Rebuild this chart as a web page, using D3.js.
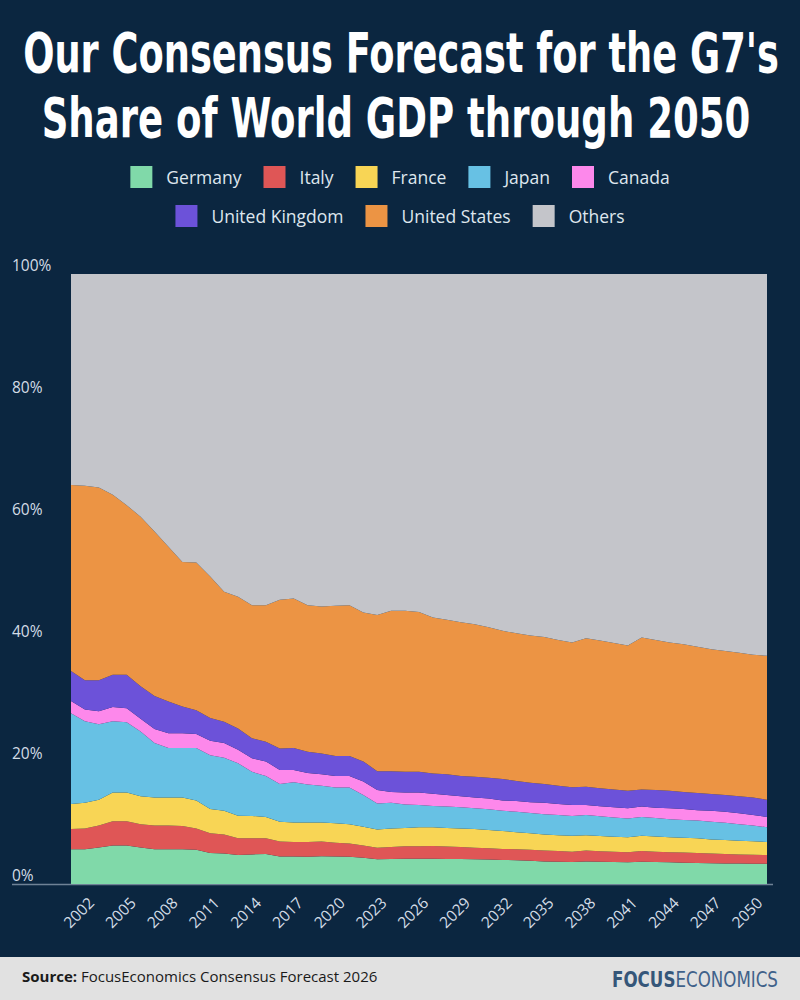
<!DOCTYPE html>
<html><head><meta charset="utf-8">
<script src="https://cdn.jsdelivr.net/npm/d3@7"></script>
<style>html,body{margin:0;padding:0;background:#0b2640;} svg{display:block}</style>
</head><body><svg id="c" width="800" height="1000"></svg>
<script>
const years = [2000,2001,2002,2003,2004,2005,2006,2007,2008,2009,2010,2011,2012,2013,2014,2015,2016,2017,2018,2019,2020,2021,2022,2023,2024,2025,2026,2027,2028,2029,2030,2031,2032,2033,2034,2035,2036,2037,2038,2039,2040,2041,2042,2043,2044,2045,2046,2047,2048,2049,2050];
const germany = [5.7,5.7,6.0,6.3,6.3,6.0,5.7,5.7,5.7,5.6, 5.1,5.0,4.75,4.85,4.9,4.5,4.5,4.45,4.55,4.5, 4.45,4.3,4.05,4.1,4.15,4.15,4.15,4.1,4.1,4.05, 4.0,3.95,3.9,3.8,3.7,3.65,3.6,3.7,3.65,3.6, 3.55,3.65,3.6,3.55,3.5,3.45,3.4,3.35,3.35,3.3,3.3];
const italy = [3.3,3.4,3.6,4.0,4.0,3.8,3.9,3.9,3.8,3.5, 3.2,3.1,2.75,2.65,2.6,2.45,2.4,2.45,2.4,2.25, 2.2,2.0,1.9,1.95,2.05,2.05,2.1,2.05,1.95,1.9, 1.85,1.8,1.8,1.8,1.8,1.75,1.7,1.8,1.7,1.7, 1.65,1.75,1.7,1.65,1.65,1.65,1.6,1.55,1.5,1.5,1.45];
const france = [4.1,4.2,4.2,4.7,4.7,4.6,4.6,4.6,4.7,4.6, 4.0,3.9,3.7,3.65,3.5,3.25,3.2,3.2,3.15,3.2, 3.15,3.1,3.0,3.05,3.0,3.1,3.05,3.05,3.05,3.05, 3.0,2.95,2.8,2.7,2.6,2.6,2.6,2.5,2.5,2.45, 2.45,2.5,2.5,2.45,2.45,2.4,2.3,2.3,2.25,2.2,2.15];
const japan = [14.9,13.4,12.4,11.7,11.5,10.6,8.9,8.1,8.1,8.6, 8.8,8.7,8.6,7.25,6.7,6.2,6.6,6.2,6.0,5.85, 6.0,5.2,4.25,4.2,3.85,3.65,3.5,3.5,3.5,3.4, 3.4,3.3,3.35,3.35,3.35,3.3,3.25,3.3,3.25,3.15, 3.1,3.1,3.0,2.95,2.9,2.9,2.9,2.85,2.7,2.6,2.4];
const canada = [2.0,1.9,2.1,2.3,2.3,2.1,2.3,2.4,2.4,2.3, 2.4,2.4,2.2,2.2,2.4,2.3,2.0,1.9,1.9,1.9, 1.9,2.2,2.2,1.8,1.95,2.05,2.0,1.9,1.8,1.8, 1.75,1.7,1.75,1.75,1.85,1.8,1.8,1.65,1.65,1.7, 1.65,1.7,1.7,1.8,1.8,1.7,1.8,1.8,1.8,1.7,1.7];
const unitedKingdom = [4.9,4.8,5.1,5.3,5.5,5.3,5.4,5.2,4.4,3.9, 3.7,3.5,3.5,3.3,3.2,3.5,3.6,3.5,3.4,3.3, 3.3,3.3,3.1,3.4,3.4,3.4,3.3,3.4,3.3,3.4, 3.4,3.5,3.3,3.2,3.1,3.0,2.9,3.0,2.95,2.9, 2.9,2.8,2.9,2.9,2.8,2.8,2.75,2.75,2.8,2.9,2.8];
const unitedStates = [30.5,31.9,31.6,29.5,27.8,27.8,27.0,25.4,23.7,24.2, 23.2,21.3,21.6,21.8,22.4,24.4,24.5,24.0,24.1,24.6, 24.7,24.4,25.6,26.3,26.4,26.2,25.6,25.3,25.2,25.0, 24.7,24.3,24.2,24.15,24.1,23.9,23.75,24.35,24.2,24.0, 23.8,24.9,24.6,24.3,24.2,24.0,23.75,23.6,23.5,23.4,23.6];
const others = [34.6,34.7,35.0,36.2,37.9,39.8,42.2,44.7,47.2,47.3, 49.6,52.1,52.9,54.3,54.3,53.4,53.2,54.3,54.5,54.4, 54.3,55.5,55.9,55.2,55.2,55.4,56.3,56.7,57.1,57.4, 57.9,58.5,58.9,59.25,59.5,60.0,60.4,59.7,60.1,60.5, 60.9,59.6,60.0,60.4,60.7,61.1,61.5,61.8,62.1,62.4,62.6];

const seriesNames = ["Germany","Italy","France","Japan","Canada","United Kingdom","United States","Others"];
const seriesValues = [germany, italy, france, japan, canada, unitedKingdom, unitedStates, others];
const seriesColors = ["#80d9a9","#df5656","#f8d555","#67c1e4","#fd88eb","#6c52d9","#ec9444","#c4c5ca"];
const yTickValues = [0,20,40,60,80,100];
const xTickLabels = [2002,2005,2008,2011,2014,2017,2020,2023,2026,2029,2032,2035,2038,2041,2044,2047,2050];
const legendRows = [["Germany","Italy","France","Japan","Canada"],["United Kingdom","United States","Others"]];
const titleLines = ["Our Consensus Forecast for the G7's","Share of World GDP through 2050"];

const svg = d3.select("#c");
const W = 800, H = 1000;
svg.append("rect").attr("width", W).attr("height", H).attr("fill", "#0b2640");

// Title: each line squeezed horizontally to its target width
const titleFont = "'Liberation Sans Narrow','DejaVu Sans Condensed','Roboto',sans-serif";
function titleLine(str, cx, y, width) {
  const t = svg.append("text").attr("text-anchor", "middle")
    .attr("font-family", titleFont).attr("font-weight", 700).attr("font-size", 55)
    .attr("fill", "#ffffff").text(str);
  const len = t.node().getComputedTextLength();
  t.attr("transform", `translate(${cx},${y}) scale(${width / len},1)`);
}
titleLine(titleLines[0], 401, 72, 756);
titleLine(titleLines[1], 396, 137, 709);

// Legend
const colorOf = d3.scaleOrdinal().domain(seriesNames).range(seriesColors);
const legendY = [166, 205];
const sw = 22, gapText = 14, gapItem = 22;
legendRows.forEach((row, ri) => {
  const g = svg.append("g");
  let x = 0;
  row.forEach(name => {
    const it = g.append("g").attr("transform", `translate(${x},0)`);
    it.append("rect").attr("width", sw).attr("height", sw).attr("fill", colorOf(name));
    const t = it.append("text").attr("x", sw + gapText).attr("y", 18)
      .attr("font-family", "'Open Sans',sans-serif").attr("font-size", 17.5)
      .attr("fill", "#dfe6ee").text(name);
    x += sw + gapText + t.node().getComputedTextLength() + gapItem;
  });
  const total = x - gapItem;
  g.attr("transform", `translate(${400 - total/2},${legendY[ri]})`);
});

// Scales
const x = d3.scaleLinear().domain([years[0], years[years.length-1]]).range([71, 767]);
const y = d3.scaleLinear().domain([0, 100]).range([884, 274]);

// baseline axis line
svg.append("line").attr("x1", 12).attr("x2", 773).attr("y1", 884.5).attr("y2", 884.5)
  .attr("stroke", "#6f8296").attr("stroke-width", 1.5);

// Stack
const rows = years.map((yr, i) => {
  const o = {year: yr};
  seriesNames.forEach((n, k) => o[n] = seriesValues[k][i]);
  return o;
});
const stacked = d3.stack().keys(seriesNames)(rows);
const area = d3.area().x(d => x(d.data.year)).y0(d => y(d[0])).y1(d => y(Math.min(100, d[1])));

svg.append("clipPath").attr("id","plotclip").append("rect")
  .attr("x", x.range()[0]).attr("y", y(100)).attr("width", x.range()[1]-x.range()[0]).attr("height", y(0)-y(100));
svg.append("g").attr("clip-path","url(#plotclip)")
  .selectAll("path").data(stacked).join("path")
  .attr("d", area).attr("fill", d => colorOf(d.key));

// Y axis labels
const yAxis = d3.axisLeft(y).tickValues(yTickValues).tickFormat(d => d + "%").tickSize(0);
const yg = svg.append("g").attr("transform", "translate(12,0)").call(yAxis);
yg.select(".domain").remove();
yg.selectAll("text").attr("x", 0).attr("dy", -4).attr("text-anchor", "start")
  .attr("font-family", "'Open Sans',sans-serif").attr("font-size", 15.5)
  .attr("fill", "#d3dce6");

// X axis labels
const xAxis = d3.axisBottom(x).tickValues(xTickLabels).tickFormat(d3.format("d")).tickSize(0);
const xg = svg.append("g").attr("transform", "translate(0,884)").call(xAxis);
xg.select(".domain").remove();
xg.selectAll("text").attr("y", 0).attr("dy", 0)
  .attr("text-anchor", "end")
  .attr("transform", "translate(-4,20) rotate(-45)")
  .attr("font-family", "'Open Sans',sans-serif").attr("font-size", 15.5)
  .attr("fill", "#d3dce6");

// Footer
svg.append("rect").attr("x", 0).attr("y", 957).attr("width", W).attr("height", H - 957).attr("fill", "#e1e1e1");
const src = svg.append("text").attr("x", 22).attr("y", 982)
  .attr("font-family", "'Open Sans',sans-serif").attr("font-size", 15).attr("fill", "#1a1a1a");
src.append("tspan").attr("font-weight", 700).text("Source:");
src.append("tspan").text(" FocusEconomics Consensus Forecast 2026");

// Logo: two parts squeezed to fit 612..778
const logoFont = "'Liberation Sans Narrow','DejaVu Sans Condensed',sans-serif";
const lg = svg.append("g");
const l1 = lg.append("text").attr("x", 0).attr("y", 0).attr("font-family", logoFont)
  .attr("font-size", 22).attr("font-weight", 700).attr("fill", "#355679").text("FOCUS");
const w1 = l1.node().getComputedTextLength();
const l2 = lg.append("text").attr("x", w1).attr("y", 0).attr("font-family", logoFont)
  .attr("font-size", 22).attr("font-weight", 400).attr("fill", "#40618a").text("ECONOMICS");
const w2 = l2.node().getComputedTextLength();
lg.attr("transform", `translate(612,987) scale(${166 / (w1 + w2)},1)`);
</script></body></html>
